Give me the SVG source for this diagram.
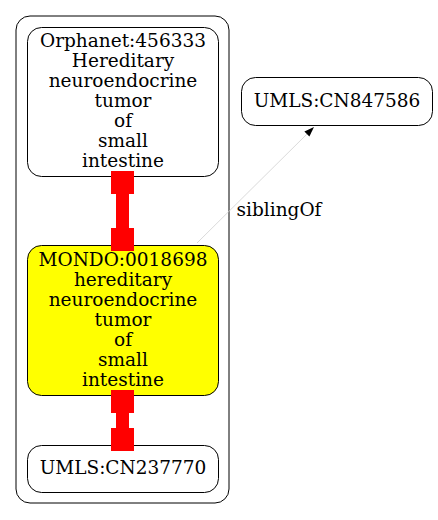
<svg xmlns="http://www.w3.org/2000/svg" width="438" height="520" viewBox="0 0 438 520">
<style>
.node rect{stroke:#000;stroke-width:1}
text{font-family:"DejaVu Serif","Liberation Serif",serif;font-size:18.5px;fill:#000;text-anchor:middle}
.red{fill:#ff0000}
</style>
<rect width="438" height="520" fill="#fff"/>
<g id="cluster">
<rect x="16" y="16" width="213" height="487" rx="14" fill="none" stroke="#000" stroke-width="1"/>
</g>
<g id="orphanet" class="node">
<rect x="27.5" y="27.5" width="191" height="149" rx="14" fill="#fff"/>
<text x="123" y="47">Orphanet:456333</text>
<text x="123" y="67">Hereditary</text>
<text x="123" y="87">neuroendocrine</text>
<text x="123" y="107">tumor</text>
<text x="123" y="127">of</text>
<text x="123" y="147">small</text>
<text x="123" y="167">intestine</text>
</g>
<g id="mondo" class="node">
<rect x="27.5" y="245.5" width="191" height="150" rx="14" fill="#ffff00"/>
<text x="123" y="266">MONDO:0018698</text>
<text x="123" y="286">hereditary</text>
<text x="123" y="306">neuroendocrine</text>
<text x="123" y="326">tumor</text>
<text x="123" y="346">of</text>
<text x="123" y="366">small</text>
<text x="123" y="386">intestine</text>
</g>
<g id="cn237770" class="node">
<rect x="27.5" y="445.5" width="191" height="47" rx="14" fill="#fff"/>
<text x="123" y="474">UMLS:CN237770</text>
</g>
<g id="cn847586" class="node">
<rect x="241.5" y="77.5" width="191" height="48" rx="14" fill="#fff"/>
<text x="337" y="107">UMLS:CN847586</text>
</g>
<g id="edges">
<g class="red">
<rect x="111" y="171" width="23" height="23"/>
<rect x="116" y="193" width="13" height="36"/>
<rect x="111" y="228" width="23" height="23"/>
<rect x="111" y="390" width="23" height="23"/>
<rect x="116" y="412" width="13" height="17"/>
<rect x="111" y="428" width="23" height="23"/>
</g>
<line x1="197" y1="243" x2="307" y2="134" stroke="#d0d0d0" stroke-width="0.8"/>
<polygon points="314,127 304.4,131.6 309.4,136.6" fill="#000"/>
<text x="279" y="216">siblingOf</text>
</g>
</svg>
